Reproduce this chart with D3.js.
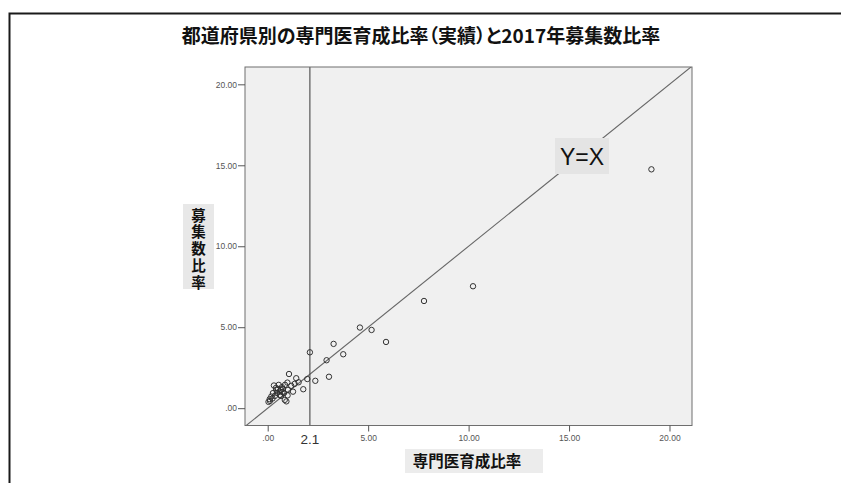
<!DOCTYPE html>
<html>
<head>
<meta charset="utf-8">
<script src="https://cdn.jsdelivr.net/npm/d3@7"></script>
<style>
  html, body { margin: 0; padding: 0; background: #fff; }
  svg { display: block; }
  .tight { font-feature-settings: "palt" 1; }
</style>
</head>
<body>
<svg id="chart" width="841" height="483"></svg>
<script>
// 専門医育成比率 (%) per prefecture
const trainingRatio = [
  19.1, 10.22, 7.78, 4.59, 5.17, 5.89, 3.28, 3.76, 2.10, 2.93, 3.05, 2.37, 1.97, 1.77,
  1.06, 1.42, 1.54, 1.17, 0.98, 0.31, 0.55, 0.71, 0.43, 0.60, 0.26, 0.18, 0.10, 0.85,
  0.93, 1.26, 0.81, 0.66, 0.76, 0.46, 0.61, 0.36, 0.11, 0.04, 0.51, 0.86, 1.01, 1.34,
  0.74, 0.41, 0.24, 0.99, 0.66
];
// 2017年募集数比率 (%) per prefecture, same order
const recruitRatio = [
  14.75, 7.53, 6.62, 4.98, 4.83, 4.09, 3.97, 3.33, 3.45, 2.96, 1.94, 1.69, 1.80, 1.17,
  2.11, 1.85, 1.60, 1.38, 1.58, 1.40, 1.44, 1.30, 1.13, 1.02, 0.93, 0.72, 0.56, 0.51,
  0.42, 1.02, 0.93, 1.13, 1.19, 0.94, 0.82, 0.76, 0.45, 0.39, 1.19, 1.44, 1.13, 1.50,
  1.01, 1.25, 0.60, 0.79, 0.76
];
const tickValues = [0, 5, 10, 15, 20];
const referenceX = 2.1;

const titleText = "都道府県別の専門医育成比率（実績）と2017年募集数比率";
const xTitle = "専門医育成比率";
const yTitle = "募集数比率";
const lineLabel = "Y=X";

const points = trainingRatio.map((x, i) => ({ x, y: recruitRatio[i] }));

const svg = d3.select("#chart");
const plot = { left: 245, top: 67, right: 692, bottom: 425.5 };

const x = d3.scaleLinear().domain([-1.13, 21.12]).range([plot.left, plot.right]);
const y = d3.scaleLinear().domain([-1.07, 21.07]).range([plot.bottom, plot.top]);

const fmt = d => d === 0 ? ".00" : d.toFixed(2);

// outer frame
svg.append("rect")
  .attr("x", 9.5).attr("y", 13.5).attr("width", 850).attr("height", 500)
  .attr("fill", "none").attr("stroke", "#1a1a1a").attr("stroke-width", 2);

// title (proportional punctuation keeps the parentheses tight)
svg.append("text")
  .attr("class", "tight")
  .attr("x", 421).attr("y", 43)
  .attr("text-anchor", "middle")
  .attr("font-family", "'Noto Sans CJK JP', sans-serif")
  .attr("font-weight", "bold").attr("font-size", 19)
  .attr("fill", "#111")
  .text(titleText);

// plot background
svg.append("rect")
  .attr("x", plot.left).attr("y", plot.top)
  .attr("width", plot.right - plot.left).attr("height", plot.bottom - plot.top)
  .attr("fill", "#f0f0f0");

svg.append("clipPath").attr("id", "plotClip")
  .append("rect")
  .attr("x", plot.left).attr("y", plot.top)
  .attr("width", plot.right - plot.left).attr("height", plot.bottom - plot.top);

const inner = svg.append("g").attr("clip-path", "url(#plotClip)");

// Y = X line
const lo = Math.max(x.domain()[0], y.domain()[0]);
const hi = Math.min(x.domain()[1], y.domain()[1]);
inner.append("line")
  .attr("x1", x(lo - 1)).attr("y1", y(lo - 1))
  .attr("x2", x(hi + 1)).attr("y2", y(hi + 1))
  .attr("stroke", "#666").attr("stroke-width", 1.1);

// vertical reference line
inner.append("line")
  .attr("x1", x(referenceX)).attr("x2", x(referenceX))
  .attr("y1", plot.top).attr("y2", plot.bottom)
  .attr("stroke", "#484848").attr("stroke-width", 1.1);

// points
inner.selectAll("circle.pt")
  .data(points)
  .join("circle")
  .attr("class", "pt")
  .attr("cx", d => x(d.x)).attr("cy", d => y(d.y))
  .attr("r", 2.7)
  .attr("fill", "none").attr("stroke", "#333").attr("stroke-width", 1);

// Y=X label
const lblG = svg.append("g");
lblG.append("rect")
  .attr("x", 555).attr("y", 138).attr("width", 54).attr("height", 36)
  .attr("fill", "#e4e4e4");
lblG.append("text")
  .attr("x", 582).attr("y", 165)
  .attr("text-anchor", "middle")
  .attr("font-family", "'Liberation Sans Narrow', 'Arial Narrow', sans-serif")
  .attr("font-size", 23).attr("fill", "#111")
  .text(lineLabel);

// plot border
svg.append("rect")
  .attr("x", plot.left).attr("y", plot.top)
  .attr("width", plot.right - plot.left).attr("height", plot.bottom - plot.top)
  .attr("fill", "none").attr("stroke", "#6e6e6e").attr("stroke-width", 1);

// axes
const xAxis = svg.append("g")
  .attr("transform", `translate(0,${plot.bottom})`)
  .call(d3.axisBottom(x).tickValues(tickValues).tickFormat(fmt).tickSize(6).tickPadding(3));
const yAxis = svg.append("g")
  .attr("transform", `translate(${plot.left},0)`)
  .call(d3.axisLeft(y).tickValues(tickValues).tickFormat(fmt).tickSize(7).tickPadding(1));

[xAxis, yAxis].forEach(g => {
  g.select(".domain").remove();
  g.selectAll(".tick line").attr("stroke", "#555");
  g.selectAll(".tick text")
    .attr("font-family", "'Liberation Sans', Arial, sans-serif")
    .attr("font-size", 8.5).attr("fill", "#555");
});

// reference value label under the axis
svg.append("text")
  .attr("x", x(referenceX)).attr("y", 444)
  .attr("text-anchor", "middle")
  .attr("font-family", "'Liberation Sans', Arial, sans-serif")
  .attr("font-size", 13.5).attr("fill", "#333")
  .text(String(referenceX));

// x axis title
svg.append("rect")
  .attr("x", 405).attr("y", 449).attr("width", 138).attr("height", 24)
  .attr("fill", "#ececec");
svg.append("text")
  .attr("x", 467).attr("y", 467)
  .attr("text-anchor", "middle")
  .attr("font-family", "'Noto Sans CJK JP', sans-serif")
  .attr("font-weight", "bold").attr("font-size", 15.5).attr("fill", "#111")
  .text(xTitle);

// y axis title, set vertically
svg.append("rect")
  .attr("x", 183).attr("y", 204).attr("width", 31).attr("height", 85)
  .attr("fill", "#e8e8e8");
svg.append("text")
  .attr("x", 198.5).attr("y", 208)
  .style("writing-mode", "vertical-rl")
  .attr("text-anchor", "start")
  .attr("letter-spacing", 2.2)
  .attr("font-family", "'Noto Sans CJK JP', sans-serif")
  .attr("font-weight", "bold").attr("font-size", 14.5).attr("fill", "#111")
  .text(yTitle);
</script>
</body>
</html>
